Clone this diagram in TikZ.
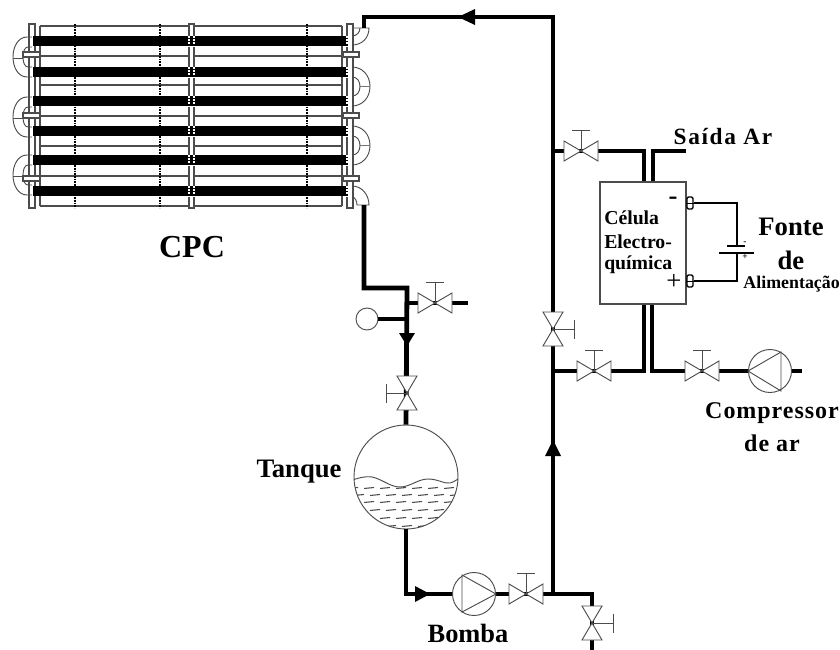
\documentclass[tikz,border=0pt]{standalone}
\usepackage{fontspec}
\setmainfont{Liberation Serif}
\newcommand{\lbl}[3][0]{\fontsize{#2}{#3}\bfseries\addfontfeatures{LetterSpace=#1}\selectfont}
\tikzset{
  pipe/.style={line width=3.6pt,line cap=butt,line join=miter,black},
  thin/.style={line width=0.7pt,draw=black!70},
  wire/.style={line width=1.1pt,black},
  grid/.style={line width=0.8pt,draw=black!70},
  dotv/.style={line width=1.1pt,black,dash pattern=on 1.2pt off 0.8pt},
  dotw/.style={line width=0.8pt,white,dash pattern=on 1.2pt off 1.2pt},
  bar/.style={fill=black,draw=none},
  vsl/.style={circle,draw=black!70,line width=0.7pt,fill=white,inner sep=0pt},
  term/.style={draw=black,line width=1pt,fill=white,rounded corners=1pt,minimum width=4.5pt,minimum height=9pt,inner sep=0pt},
  lab/.style={inner sep=0pt,align=center,text=black},
  tip/.style={fill=black,draw=none},
}
\newcommand{\hvalve}[3]{%
  \coordinate (#1) at (#2,#3);
  \begin{scope}[shift={(#2,#3)}]
    \draw[thin,fill=white] (-17,-10) -- (17,10) -- (17,-10) -- (-17,10) -- cycle;
    \draw[thin] (0,0) -- (0,-21) (-9,-21) -- (9,-21);
  \end{scope}}
\newcommand{\vvalve}[4]{% name x y handle-direction(+1 right,-1 left)
  \coordinate (#1) at (#2,#3);
  \begin{scope}[shift={(#2,#3)}]
    \draw[thin,fill=white] (-10,-17) -- (10,17) -- (-10,17) -- (10,-17) -- cycle;
    \draw[thin] (0,0) -- (#4*21,0) (#4*21,-9.5) -- (#4*21,9.5);
  \end{scope}}
\begin{document}
\begin{tikzpicture}[x=0.75pt,y=-0.75pt]
\useasboundingbox (0,0) rectangle (840,650);

% ---------- CPC collector
\foreach \y in {26,56,85,116,146,176,206} \draw[grid] (40,\y) -- (342,\y);
\draw[grid] (40,26) -- (40,206) (342,26) -- (342,206);
\foreach \x in {75,160,307} \draw[dotv] (\x,24) -- (\x,208);
\draw[grid,fill=white] (29,24) rectangle (35,208);
\draw[grid,fill=white] (189,24) rectangle (194,208);
\draw[grid,fill=white] (347,24) rectangle (353,208);
\foreach \y in {41,72,101,131,160,191} {
  \fill[bar] (33,\y-5.2) rectangle (348,\y+5.2);
  \draw[dotw] (189,\y-5) -- (189,\y+5);
  \draw[dotw] (194,\y-5) -- (194,\y+5);
  \draw[dotw] (347,\y-5) -- (347,\y+5);
}
% caps
\foreach \y in {52,113,176} {
  \draw[grid,fill=white] (23,\y) rectangle (40,\y+5);
  \draw[grid,fill=white] (343,\y) rectangle (359,\y+5);
}
% left U-bends
\foreach \y in {37,97,155} {
  \draw[thin] (32,\y) -- (27,\y) .. controls (18,\y) and (13,\y+10) .. (13,\y+20)
     .. controls (13,\y+30) and (18,\y+40) .. (27,\y+40) -- (32,\y+40);
  \draw[thin] (32,\y+10) -- (28,\y+10) .. controls (25,\y+10) and (23,\y+14) .. (23,\y+20)
     .. controls (23,\y+26) and (25,\y+30) .. (28,\y+30) -- (32,\y+30);
  \draw[thin] (13,\y+21) -- (23,\y+21);
}
% right U-bends
\foreach \y in {67,126} {
  \draw[thin] (352,\y) .. controls (362,\y) and (370,\y+8) .. (370,\y+19.5)
     .. controls (370,\y+31) and (362,\y+39) .. (352,\y+39);
  \draw[thin] (352,\y+10) .. controls (357,\y+10) and (360,\y+14) .. (360,\y+19.5)
     .. controls (360,\y+25) and (357,\y+29) .. (352,\y+29);
  \draw[line width=1.1pt,draw=black!55] (360,\y+19.5) -- (370,\y+19.5);
}
% right elbows
\draw[thin] (354,28) -- (369,28) .. controls (369,38) and (362,45) .. (352,45);
\draw[thin] (360,28) .. controls (360,32) and (357,36) .. (352,36);
\draw[thin] (352,186) .. controls (362,186) and (369,195) .. (369,205) -- (357,205) .. controls (357,201) and (355,197) .. (352,197);

% ---------- nodes
\node[vsl,minimum size=16.5pt] (gauge) at (367,319) {};
\node[vsl,minimum size=78pt] (tank) at (406,477) {};
\node[draw=black!70,line width=0.8pt,fill=white,minimum width=64.5pt,minimum height=91.5pt,inner sep=0pt] (cell) at (643,243) {};
\node[vsl,minimum size=32.25pt] (pumpA) at (474,594) {};
\node[vsl,minimum size=32.25pt] (pumpB) at (770,371) {};

\coordinate (topL) at (364,17);
\coordinate (topR) at (553,17);
\coordinate (elbowT) at (364,28);
\coordinate (elbowB) at (364,205);
\coordinate (bendA) at (364,288);
\coordinate (bendB) at (407,288);
\coordinate (teeG) at (407,319);
\coordinate (teeV) at (407,303);
\coordinate (stubV) at (468,303);
\coordinate (tankBot) at (406,594);
\coordinate (teeBot) at (553,594);
\coordinate (cornerBot) at (592,594);
\coordinate (drainEnd) at (592,650);
\coordinate (teeUp) at (553,151);
\coordinate (teeLow) at (553,371);
\coordinate (outA) at (644,151);
\coordinate (outB) at (653,151);
\coordinate (outEnd) at (686,151);
\coordinate (inA) at (644,371);
\coordinate (inB) at (652,371);
\coordinate (compEnd) at (802,371);

% ---------- pipes
\draw[pipe] (teeBot) -- (topR) -- (topL) -- (elbowT);
\draw[pipe] (elbowB) -- (bendA) -- (bendB) -- (tank.north);
\draw[pipe] (teeV) -- (stubV);
\draw[pipe] (gauge.east) -- (teeG);
\draw[pipe] (tank.south) -- (tankBot) -- (pumpA.west);
\draw[pipe] (pumpA.east) -- (teeBot) -- (cornerBot) -- (drainEnd);
\draw[pipe] (teeUp) -- (outA) -- (outA |- cell.north);
\draw[pipe] (outEnd) -- (outB) -- (outB |- cell.north);
\draw[pipe] (teeLow) -- (inA) -- (inA |- cell.south);
\draw[pipe] (pumpB.west) -- (inB) -- (inB |- cell.south);
\draw[pipe] (pumpB.east) -- (compEnd);

% ---------- valves
\hvalve{vOut}{581}{151}
\hvalve{vIn}{594}{371}
\hvalve{vComp}{702}{371}
\hvalve{vStub}{435}{303}
\hvalve{vPump}{526}{594}
\vvalve{vMain}{553}{329}{1}
\vvalve{vTank}{407}{393}{-1}
\vvalve{vDrain}{592}{623}{1}

% ---------- pump symbols
\draw[thin] (pumpA.east) -- (462,575) -- (462,612) -- cycle;
\draw[thin] (pumpB.west) -- (781,352) -- (781,391) -- cycle;

% ---------- flow arrows
\fill[tip] (458,17) -- (475,9) -- (475,25) -- cycle;
\fill[tip] (407,346) -- (399,333) -- (415,333) -- cycle;
\fill[tip] (430,594) -- (415,586) -- (415,602) -- cycle;
\fill[tip] (553,440) -- (545,456) -- (561,456) -- cycle;

% ---------- tank contents
\begin{scope}
  \clip (406,477) circle (52);
  \draw[thin] (350,481) .. controls (358,478) and (364,476) .. (372,477)
     .. controls (382,479) and (390,487) .. (400,487)
     .. controls (410,487) and (418,479) .. (428,479)
     .. controls (438,479) and (444,484) .. (450,483)
     .. controls (454,482) and (456,480) .. (460,478);
  \foreach \y/\o in {488/0,495/6,502/0,510/6,518/0,526/6}
    \foreach \i in {0,...,7}
      \draw[line width=0.8pt,draw=black!70] (348+\o+\i*16,\y+0.5) -- (358+\o+\i*16,\y-0.5);
\end{scope}

% ---------- power supply
\node[term] (termA) at (690,203) {};
\node[term] (termB) at (690,281) {};
\draw[line width=0.7pt] (termA.west) -- (termA.east) (termB.west) -- (termB.east);
\coordinate (wireA) at (737,203);
\coordinate (wireB) at (737,281);
\coordinate (plateA) at (737,246);
\coordinate (plateB) at (737,253);
\draw[wire] (termA.east) -- (wireA) -- (plateA);
\draw[wire] (termB.east) -- (wireB) -- (plateB);
\draw[wire] (727,246) -- (745,246);
\draw[wire] (719,253) -- (754,253);

% ---------- labels
\node[lab] (lMinusS) at (745,243) {\lbl{7}{8}-};
\node[lab] (lPlusS) at (745,257) {\lbl{7}{8}+};
\node[lab] (lMinus) at (673,201) {\lbl{20}{22}-};
\node[lab] (lPlus) at (674,282) {\fontsize{20}{22}\selectfont +};
\node[lab,anchor=west] (lCel1) at (604,218) {\lbl{14.8}{16}Célula};
\node[lab,anchor=west] (lCel2) at (604,242) {\lbl{14.8}{16}Electro-};
\node[lab,anchor=west] (lCel3) at (604,265) {\lbl{14.8}{16}química};
\node[lab] (lSaida) at (723,137) {\lbl[7]{17.5}{18}Saída Ar};
\node[lab] (lFonte) at (791,227) {\lbl{20}{22}Fonte};
\node[lab] (lDe) at (791,260) {\lbl{20}{22}de};
\node[lab,anchor=east] (lAlim) at (840,284) {\lbl{13.4}{15}Alimentação};
\node[lab] (lComp) at (772,413) {\lbl[4]{18}{18}Compressor};
\node[lab] (lAr) at (772,443) {\lbl[4]{18}{18}de ar};
\node[lab] (lCPC) at (192,247) {\lbl{24}{26}CPC};
\node[lab] (lTanque) at (299,472) {\lbl{20}{22}Tanque};
\node[lab] (lBomba) at (468,633) {\lbl{19.8}{22}Bomba};
\end{tikzpicture}
\end{document}
